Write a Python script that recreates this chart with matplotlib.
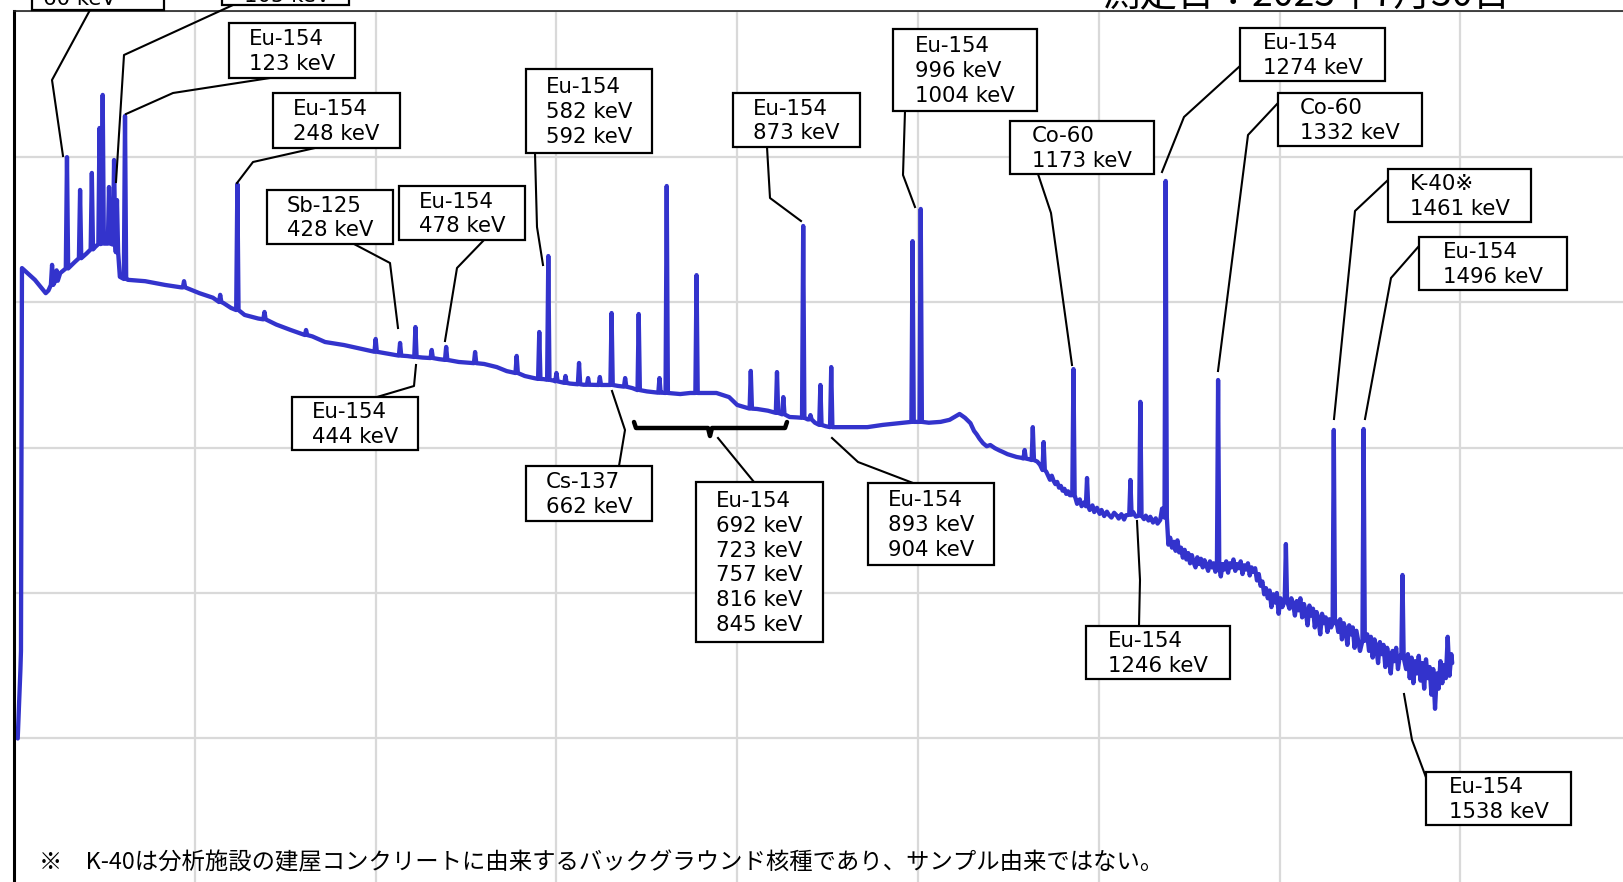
import numpy as np
import matplotlib
matplotlib.use("Agg")
import matplotlib.pyplot as plt
from matplotlib.lines import Line2D
from matplotlib.patches import Rectangle

# ---------------- data ----------------
cont_keV = [4, 7, 7.6, 8.7, 23, 35, 38, 51, 67, 80, 90, 100, 108, 112, 114.5, 117, 126, 145, 167, 185,
            205, 220, 232, 240, 255, 270, 290, 306, 330, 344, 365, 390, 410, 435, 452, 470, 492, 520,
            534, 545, 565, 575, 586, 597, 615, 630, 655, 668, 684, 700, 717, 737, 748, 765, 777, 791,
            800, 811, 822, 834, 849, 858, 866, 878, 886, 898, 910, 925, 944, 961, 980, 1012, 1025,
            1035, 1046, 1052,
            1058, 1062, 1065, 1068, 1072, 1076, 1080, 1085, 1090, 1094, 1099, 1104, 1109, 1114, 1123,
            1132, 1135, 1142,
            1146, 1148, 1150, 1152, 1154, 1156, 1158, 1160, 1162, 1164, 1166, 1168, 1170,
            1176, 1179, 1181, 1184, 1190, 1193, 1195, 1198, 1201, 1203, 1206, 1209, 1211, 1214, 1217,
            1220, 1222, 1225, 1228, 1230, 1233, 1238, 1241, 1250, 1252, 1255, 1257, 1260, 1263, 1265,
            1268, 1270,
            1277, 1279, 1281, 1283, 1285, 1287, 1289, 1291, 1293, 1295, 1297, 1299, 1301, 1303, 1305,
            1307, 1309, 1311, 1313, 1315, 1317, 1319, 1321, 1323, 1325, 1327, 1329,
            1335, 1337, 1339, 1341, 1343, 1345, 1347, 1349, 1351, 1353, 1355, 1357, 1359, 1361, 1363,
            1365, 1367, 1369, 1371, 1373, 1375, 1377, 1379,
            1381, 1383, 1385, 1387, 1389, 1391, 1393, 1395, 1397, 1399, 1401, 1403, 1405,
            1409, 1411, 1413, 1415, 1417, 1419, 1421, 1423, 1425, 1427, 1429, 1431, 1433, 1435, 1437,
            1439, 1441, 1443, 1445, 1447, 1449, 1451, 1453, 1455, 1457,
            1463, 1465, 1467, 1469, 1471, 1473, 1475, 1477, 1479, 1481, 1483, 1485, 1487, 1489,
            1497, 1499, 1501, 1503, 1505, 1507, 1509, 1511, 1513, 1515, 1517, 1519, 1521, 1523, 1525,
            1527, 1529, 1531, 1533,
            1540, 1542, 1544, 1546, 1548, 1550, 1552, 1554, 1556, 1558, 1560, 1562, 1564, 1566, 1568,
            1570, 1572, 1574, 1576, 1578, 1580, 1582, 1584, 1586, 1588, 1590, 1591]
cont_counts = [10, 30, 40, 17100, 14200, 11500, 12000, 15800, 18800, 21500, 24000, 25400, 25000, 24600,
               16000, 14900, 14200, 13900, 13100, 12600, 11500, 10700, 9800, 9100, 8150, 7700, 7000,
               6420, 5800, 5310, 5060, 4680, 4450, 4250, 4150, 4050, 3870, 3750, 3570, 3350, 3100, 3000,
               2950, 2880, 2750, 2700, 2690, 2650, 2560, 2430, 2380, 2330, 2370, 2370, 2370, 2220, 1960,
               1870, 1840, 1790, 1700, 1620, 1610, 1560, 1480, 1400, 1380, 1380, 1380, 1430, 1470, 1480,
               1500, 1550, 1700, 1600,
               1470, 1300, 1230, 1150, 1070, 1020, 1040, 990, 955, 931, 900, 880, 861, 850, 830,
               800, 760, 680,
               600, 640, 590, 560, 580, 530, 545, 505, 520, 480, 500, 470, 490,
               410, 440, 395, 420, 372, 400, 360, 385, 350, 372, 338, 362, 345, 330, 356,
               340, 325, 348, 320, 342, 352, 360, 335, 322, 340, 315, 334, 305, 326, 300,
               318, 380,
               215, 240, 205, 225, 195, 230, 190, 205, 175, 198, 170, 188, 160, 182, 162,
               150, 176, 158, 172, 150, 168, 155, 142, 165, 150, 160, 140,
               130, 158, 145, 165, 138, 160, 150, 170, 142, 158, 148, 165, 135, 155, 145,
               160, 132, 150, 140, 148, 122, 135, 112,
               120, 98, 108, 92, 104, 80, 98, 86, 100, 72, 92, 80, 88,
               95, 78, 92, 84, 70, 88, 76, 92, 68, 84, 74, 60, 82, 70, 78,
               58, 74, 66, 52, 72, 62, 68, 54, 66, 58,
               64, 54, 66, 48, 62, 56, 44, 60, 52, 58, 42, 55, 47, 40,
               52, 40, 50, 36, 48, 42, 33, 46, 38, 44, 31, 42, 36, 28, 40,
               34, 42, 30, 37,
               30, 38, 26, 36, 24, 34, 28, 37, 25, 33, 22, 35, 26, 31, 20,
               30, 16, 28, 22, 34, 24, 32, 26, 50, 27, 38, 33]

peak_keV = [42, 47, 58.5, 73, 86, 94.5, 98, 105, 110.6, 113.8, 122.7, 188, 228, 247, 277, 323, 400, 427,
            444, 462, 478, 510, 556, 581, 591, 600, 610, 625, 635, 648, 661, 676, 691, 714, 722, 755,
            815, 844, 851, 873, 881, 892, 904, 994, 1003, 1118, 1127, 1139, 1172, 1187, 1235, 1246,
            1274, 1332, 1407, 1460, 1493, 1536]
peak_base = [13100, 14000, 17000, 20000, 23000, 25000, 25200, 25200, 24800, 22000, 14400, 12600, 10000,
             8800, 7600, 5930, 4550, 4280, 4190, 4120, 4000, 3800, 3250, 2960, 2920, 2850, 2780, 2720,
             2700, 2690, 2690, 2620, 2480, 2380, 2370, 2370, 1850, 1730, 1690, 1600, 1560, 1430, 1380,
             1500, 1500, 840, 820, 700, 470, 395, 345, 340, 330, 150, 88, 62, 47, 36]
peak_top = [18000, 16500, 99000, 58900, 77100, 157000, 265000, 61700, 94600, 50200, 190000, 13900,
            11200, 64700, 8540, 6420, 5570, 5230, 6730, 4680, 4910, 4530, 4260, 6220, 20700, 3250, 3100,
            3810, 3000, 3050, 8400, 3000, 8270, 3000, 62700, 15300, 3360, 3300, 2220, 33300, 1670, 2690,
            3570, 26200, 43600, 961, 1380, 1090, 3460, 617, 598, 2060, 67900, 2910, 217, 1320, 1340, 133]

x_grid_keV = [0, 200, 400, 600, 800, 1000, 1200, 1400, 1600, 1800]
y_grid_counts = [1, 10, 100, 1000, 10000, 100000, 1000000]

labels = ["Eu-154\n123 keV", "Eu-154\n248 keV", "Sb-125\n428 keV", "Eu-154\n478 keV",
          "Eu-154\n582 keV\n592 keV", "Eu-154\n444 keV", "Cs-137\n662 keV",
          "Eu-154\n692 keV\n723 keV\n757 keV\n816 keV\n845 keV", "Eu-154\n873 keV",
          "Eu-154\n996 keV\n1004 keV", "Eu-154\n893 keV\n904 keV", "Co-60\n1173 keV",
          "Eu-154\n1274 keV", "Co-60\n1332 keV", "K-40※\n1461 keV", "Eu-154\n1496 keV",
          "Eu-154\n1246 keV", "Eu-154\n1538 keV"]
header_text = "測定日：2023年7月30日"
footnote_text = "※　K-40は分析施設の建屋コンクリートに由来するバックグラウンド核種であり、サンプル由来ではない。"

# ---------------- layout (pixel positions, origin top-left) ----------------
W, H = 1624, 882
box_px = [(229, 23, 355, 78), (273, 93, 400, 148), (267, 190, 393, 244), (399, 186, 525, 240),
          (526, 69, 652, 153), (292, 397, 418, 450), (526, 466, 652, 521), (696, 482, 823, 642),
          (733, 93, 860, 147), (893, 29, 1037, 111), (868, 483, 994, 565), (1010, 121, 1154, 174),
          (1240, 28, 1385, 81), (1278, 93, 1422, 146), (1388, 169, 1531, 222), (1419, 237, 1567, 290),
          (1086, 626, 1230, 679), (1426, 772, 1571, 825)]
leaders_px = [
    [(90, 10), (52, 80), (63, 156)],
    [(233, 5), (124, 55), (116, 182)],
    [(270, 78), (173, 93), (126, 114)],
    [(315, 148), (253, 162), (237, 183)],
    [(354, 244), (390, 263), (398, 328)],
    [(484, 240), (457, 268), (445, 341)],
    [(535, 153), (537, 227), (543, 265)],
    [(377, 397), (414, 386), (416, 365)],
    [(619, 466), (625, 430), (612, 391)],
    [(754, 482), (718, 438)],
    [(767, 147), (770, 198), (801, 221)],
    [(905, 111), (903, 175), (915, 207)],
    [(913, 483), (858, 462), (832, 438)],
    [(1038, 174), (1051, 213), (1072, 365)],
    [(1240, 66), (1184, 117), (1162, 172)],
    [(1278, 103), (1248, 135), (1218, 371)],
    [(1388, 180), (1355, 211), (1334, 419)],
    [(1419, 246), (1391, 278), (1365, 419)],
    [(1139, 626), (1140, 580), (1137, 521)],
    [(1427, 780), (1412, 740), (1404, 694)],
]
bracket_px = [(634, 422), (636, 428), (708, 428), (710, 436), (712, 428), (785, 428), (787, 422)]

# ---------------- figure ----------------
fig = plt.figure(figsize=(W / 100, H / 100), dpi=100)
ax_left, ax_top = 14.1, 11.0
px_per_keV = 0.9039
ax_right = ax_left + px_per_keV * 1800
ax_bottom = 884.0
ax = fig.add_axes([ax_left / W, 1 - ax_bottom / H, (ax_right - ax_left) / W, (ax_bottom - ax_top) / H])
ax.set_xlim(0, 1800)
ax.set_yscale("log")
ax.set_ylim(1, 1e6)
ax.set_xticks(x_grid_keV)
ax.set_yticks(y_grid_counts)
ax.yaxis.set_minor_locator(matplotlib.ticker.NullLocator())
ax.tick_params(length=0, labelbottom=False, labelleft=False)
ax.grid(True, color="#d9d9d9", lw=1.6)
ax.set_axisbelow(True)
ax.spines["right"].set_visible(False)
ax.spines["bottom"].set_visible(False)
ax.spines["left"].set_linewidth(2.2)
ax.spines["left"].set_color("black")
ax.spines["top"].set_linewidth(1.2)
ax.spines["top"].set_color("#222222")

# spectrum polyline: continuum points + narrow peaks
hw = 1.3
pts = [(e, c) for e, c in zip(cont_keV, cont_counts)
       if all(abs(e - p) > 1.6 * hw for p in peak_keV)]
for e, b, t in zip(peak_keV, peak_base, peak_top):
    pts += [(e - hw, b), (e, t), (e + hw, b)]
pts.sort()
xs = [p[0] for p in pts]
ys = [p[1] for p in pts]
ax.plot(xs, ys, color="#3333cc", lw=3.1, solid_joinstyle="round", solid_capstyle="round")


def fx(x):
    return x / W


def fy(y):
    return 1 - y / H


# leader lines
for path in leaders_px:
    fig.add_artist(Line2D([fx(p[0]) for p in path], [fy(p[1]) for p in path],
                          transform=fig.transFigure, color="black", lw=1.5, zorder=5))
fig.add_artist(Line2D([fx(p[0]) for p in bracket_px], [fy(p[1]) for p in bracket_px],
                      transform=fig.transFigure, color="black", lw=3.2, zorder=5,
                      solid_joinstyle="round", solid_capstyle="round"))

label_font = dict(fontsize=15.3, family=["DejaVu Sans", "Noto Sans CJK JP"], linespacing=1.3)

# boxes with labels
for txt, (x0, y0, x1, y1) in zip(labels, box_px):
    fig.add_artist(Rectangle((fx(x0), fy(y1)), (x1 - x0) / W, (y1 - y0) / H, transform=fig.transFigure,
                             facecolor="white", edgecolor="black", lw=1.6, zorder=6))
    fig.text(fx((x0 + x1) / 2), fy((y0 + y1) / 2 + 1), txt, ha="center", va="center",
             multialignment="left", zorder=7, **label_font)

# partially visible boxes at the top edge
for (x0, y0, x1, y1), txt, tx, ty in [((32, -50, 164, 10), "60 keV", 43, 5),
                                      ((222, -55, 349, 5), "105 keV", 244, 1.5)]:
    fig.add_artist(Rectangle((fx(x0), fy(y1)), (x1 - x0) / W, (y1 - y0) / H, transform=fig.transFigure,
                             facecolor="white", edgecolor="black", lw=1.6, zorder=6))
    fig.text(fx(tx), fy(ty), txt, ha="left", va="baseline", zorder=7, **label_font)

# header (cut off at the top)
fig.text(fx(1103), fy(6), header_text, ha="left", va="baseline", fontsize=27,
         family=["Noto Sans CJK JP", "DejaVu Sans"], color="black")

# footnote
fig.text(fx(39), fy(863), footnote_text, ha="left", va="center", fontsize=16.8,
         family=["Noto Sans CJK JP", "DejaVu Sans"], color="black")

fig.savefig("out.png", dpi=100)
